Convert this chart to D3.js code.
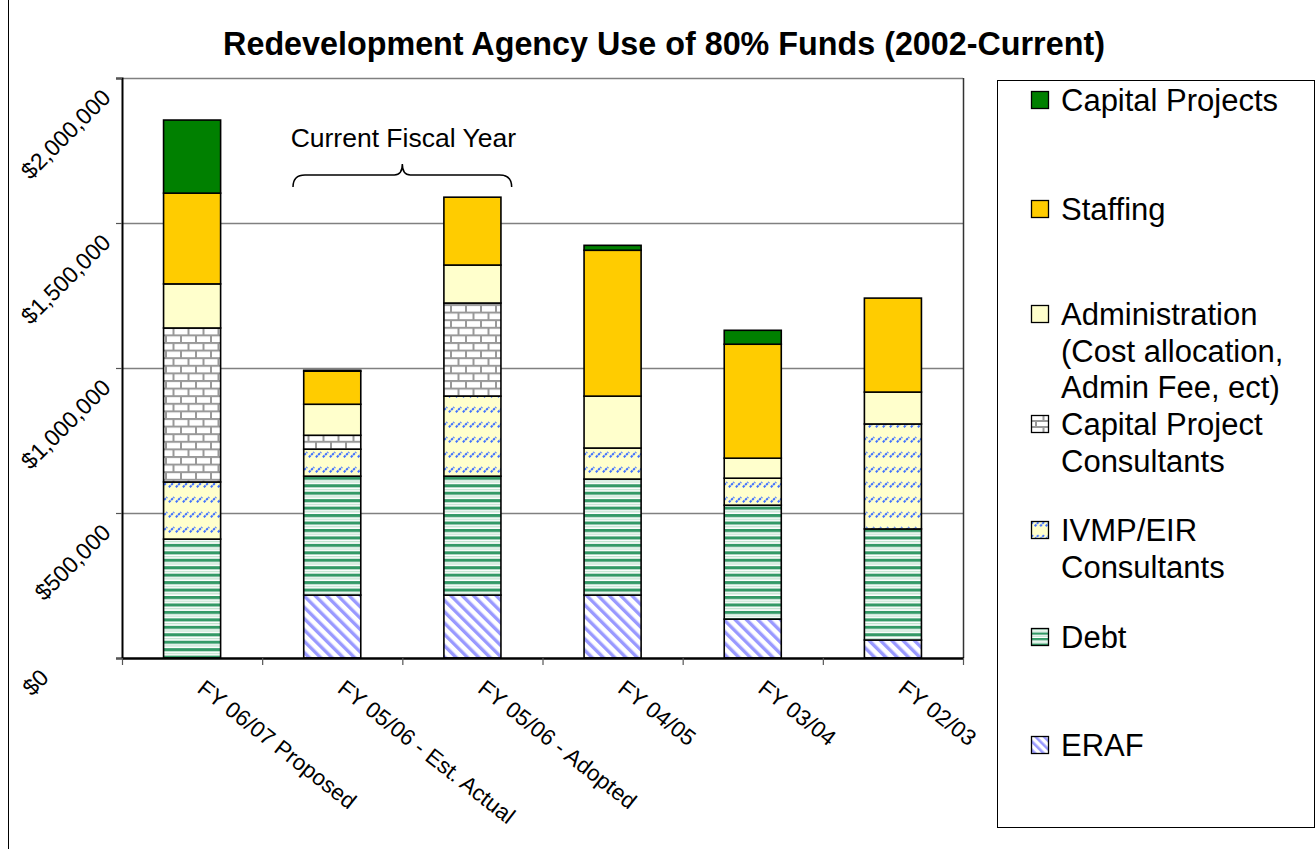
<!DOCTYPE html>
<html>
<head>
<meta charset="utf-8">
<script src="https://cdn.jsdelivr.net/npm/d3@7"></script>
<style>
  html, body { margin: 0; padding: 0; background: #fff; }
  svg { display: block; font-family: "Liberation Sans", Arial, sans-serif; }
</style>
</head>
<body>
<svg id="chart" width="1316" height="849"></svg>
<script>
// ---- data ----
const categories = ["FY 06/07 Proposed", "FY 05/06 - Est. Actual", "FY 05/06 - Adopted", "FY 04/05", "FY 03/04", "FY 02/03"];
const eraf      = [0,      217000, 217000, 217000, 134000, 62000];
const debt      = [410000, 410000, 410000, 400000, 393000, 383000];
const ivmp      = [197000, 93000,  276000, 107000, 93000,  362000];
const cpc       = [531000, 48000,  321000, 0,      0,      0];
const admin     = [152000, 107000, 131000, 179000, 69000,  110000];
const staffing  = [313000, 114000, 234000, 503000, 393000, 324000];
const capital   = [252000, 3000,   0,      17000,  48000,  0];
const yTicks = [0, 500000, 1000000, 1500000, 2000000];
const seriesNames = ["ERAF", "Debt", "IVMP/EIR Consultants", "Capital Project Consultants", "Administration", "Staffing", "Capital Projects"];
const legendLabels = [
  ["Capital Projects"],
  ["Staffing"],
  ["Administration", "(Cost allocation,", "Admin Fee, ect)"],
  ["Capital Project", "Consultants"],
  ["IVMP/EIR", "Consultants"],
  ["Debt"],
  ["ERAF"]
];
const title = "Redevelopment Agency Use of 80% Funds (2002-Current)";
const annotation = "Current Fiscal Year";

const seriesValues = [eraf, debt, ivmp, cpc, admin, staffing, capital];
const fills = ["url(#pEraf)", "url(#pDebt)", "url(#pIvmp)", "url(#pBrick)", "#FFFFCC", "#FFCC00", "#008000"];
const legendFills = ["#008000", "#FFCC00", "#FFFFCC", "url(#pBrickL)", "url(#pIvmpL)", "url(#pDebtL)", "url(#pErafL)"];

const svg = d3.select("#chart");
const defs = svg.append("defs");

// ERAF: white with lavender "\" stripes
function erafPattern(id, w, sw) {
  const p = defs.append("pattern").attr("id", id).attr("patternUnits", "userSpaceOnUse")
    .attr("width", w).attr("height", w).attr("patternTransform", "rotate(-45)");
  p.append("rect").attr("width", w).attr("height", w).attr("fill", "#fff");
  p.append("rect").attr("x", 0).attr("width", sw).attr("height", w).attr("fill", "#9999FF");
}
erafPattern("pEraf", 8, 3.4);
erafPattern("pErafL", 6, 2.6);

// Debt: horizontal green stripes
function debtPattern(id, h) {
  const p = defs.append("pattern").attr("id", id).attr("patternUnits", "userSpaceOnUse")
    .attr("width", 10).attr("height", h);
  p.append("rect").attr("width", 10).attr("height", h).attr("fill", "#fff");
  p.append("rect").attr("y", 0).attr("width", 10).attr("height", h * 0.42).attr("fill", "#339966");
  p.append("rect").attr("y", h * 0.66).attr("width", 10).attr("height", h * 0.12).attr("fill", "#A8D8BC");
}
debtPattern("pDebt", 7.45);
debtPattern("pDebtL", 5.5);

// IVMP: light yellow with small blue "/" dashes
function ivmpPattern(id, w, h) {
  const p = defs.append("pattern").attr("id", id).attr("patternUnits", "userSpaceOnUse")
    .attr("width", w).attr("height", h);
  p.append("rect").attr("width", w).attr("height", h).attr("fill", "#FFFFCC");
  p.append("line").attr("x1", w * 0.12).attr("y1", h * 0.48).attr("x2", w * 0.88).attr("y2", h * 0.14)
    .attr("stroke", "#3F70FF").attr("stroke-width", 2).attr("stroke-dasharray", "2.4,0.8");
}
ivmpPattern("pIvmp", 7, 15);
ivmpPattern("pIvmpL", 5.5, 13);

// Brick pattern
function brickPattern(id, w, h) {
  const p = defs.append("pattern").attr("id", id).attr("patternUnits", "userSpaceOnUse")
    .attr("width", w).attr("height", h);
  p.append("rect").attr("width", w).attr("height", h).attr("fill", "#fff");
  const c = "#999999";
  p.append("rect").attr("x", 0).attr("y", 0).attr("width", w).attr("height", 2).attr("fill", c);
  p.append("rect").attr("x", 0).attr("y", h / 2).attr("width", w).attr("height", 2).attr("fill", c);
  p.append("rect").attr("x", 0).attr("y", 0).attr("width", 2).attr("height", h / 2).attr("fill", c);
  p.append("rect").attr("x", w / 2).attr("y", h / 2).attr("width", 2).attr("height", h / 2).attr("fill", c);
}
brickPattern("pBrick", 15, 15.2);
brickPattern("pBrickL", 15, 12);

// ---- layout ----
const plot = { left: 122, right: 963, top: 78, bottom: 658 };

const x = d3.scaleBand().domain(categories).range([plot.left, plot.right])
  .paddingInner(0.593).paddingOuter(0.2965);
const y = d3.scaleLinear().domain([0, 2000000]).range([plot.bottom, plot.top]);

// outer chart border (left edge visible)
svg.append("line").attr("x1", 8.5).attr("x2", 8.5).attr("y1", 0).attr("y2", 849)
  .attr("stroke", "#000").attr("stroke-width", 1);

// title
svg.append("text").attr("x", 664).attr("y", 55).attr("text-anchor", "middle")
  .attr("font-weight", "bold").attr("font-size", 32.3).text(title);

// gridlines
svg.append("g").selectAll("line").data(yTicks.filter(d => d > 0)).join("line")
  .attr("x1", plot.left).attr("x2", plot.right)
  .attr("y1", d => Math.round(y(d)) + 0.5).attr("y2", d => Math.round(y(d)) + 0.5)
  .attr("stroke", "#808080").attr("stroke-width", 1.5);

// right border of plot
svg.append("line").attr("x1", plot.right + 0.5).attr("x2", plot.right + 0.5)
  .attr("y1", plot.top).attr("y2", plot.bottom).attr("stroke", "#333").attr("stroke-width", 1.5);

// stacked bars
const stackData = categories.map((c, i) => {
  const o = { cat: c };
  seriesNames.forEach((s, k) => o[s] = seriesValues[k][i]);
  return o;
});
const stacked = d3.stack().keys(seriesNames)(stackData);

const gBars = svg.append("g");
stacked.forEach((layer, k) => {
  gBars.append("g").selectAll("rect").data(layer.filter(d => d[1] - d[0] > 0)).join("rect")
    .attr("x", d => x(d.data.cat))
    .attr("width", x.bandwidth())
    .attr("y", d => y(d[1]))
    .attr("height", d => y(d[0]) - y(d[1]))
    .attr("fill", fills[k])
    .attr("stroke", "#000").attr("stroke-width", 1.6);
});

// y axis
const yAxis = d3.axisLeft(y).tickValues(yTicks).tickSize(6).tickFormat("");
const gy = svg.append("g").attr("transform", `translate(${plot.left},0)`).call(yAxis);
gy.select(".domain").attr("stroke", "#000").attr("stroke-width", 2);
gy.selectAll(".tick line").attr("stroke", "#555").attr("stroke-width", 1.2);

const fmt = v => "$" + d3.format(",")(v);
svg.append("g").selectAll("text").data(yTicks).join("text")
  .attr("transform", d => `translate(${d === 0 ? 50 : 112},${y(d) + 21}) rotate(-45)`)
  .attr("text-anchor", "end").attr("font-size", 23).text(fmt);

// x axis
svg.append("line").attr("x1", plot.left).attr("x2", plot.right + 1)
  .attr("y1", plot.bottom + 0.5).attr("y2", plot.bottom + 0.5)
  .attr("stroke", "#000").attr("stroke-width", 2.5);
const step = x.step();
const tickXs = categories.map(c => x(c) + x.bandwidth() / 2 - step / 2).concat([plot.right]);
svg.append("g").selectAll("line").data(tickXs).join("line")
  .attr("x1", d => d + 0.5).attr("x2", d => d + 0.5)
  .attr("y1", plot.bottom).attr("y2", plot.bottom + 7)
  .attr("stroke", "#555").attr("stroke-width", 1.2);

svg.append("g").selectAll("text").data(categories).join("text")
  .attr("transform", c => `translate(${x(c) + x.bandwidth() / 2 + 4},${plot.bottom + 33}) rotate(38)`)
  .attr("text-anchor", "start").attr("font-size", 22.5).text(d => d);

// annotation with brace
const bx0 = x(categories[1]) + x.bandwidth() / 2 - step * 0.28;
const bx1 = x(categories[2]) + x.bandwidth() / 2 + step * 0.28;
const bm = (bx0 + bx1) / 2;
const by = 175;
svg.append("text").attr("x", bm + 1).attr("y", 147).attr("text-anchor", "middle")
  .attr("font-size", 26.5).text(annotation);
svg.append("path")
  .attr("d", `M${bx0},${by + 12} Q${bx0},${by} ${bx0 + 12},${by} L${bm - 8},${by} Q${bm},${by} ${bm},${by - 11} Q${bm},${by} ${bm + 8},${by} L${bx1 - 12},${by} Q${bx1},${by} ${bx1},${by + 12}`)
  .attr("fill", "none").attr("stroke", "#000").attr("stroke-width", 1.5);

// legend
svg.append("rect").attr("x", 997.5).attr("y", 80.5).attr("width", 317).attr("height", 747)
  .attr("fill", "#fff").attr("stroke", "#000").attr("stroke-width", 1);
const legendY = [100, 209, 314, 424, 530, 637, 745];
const lineH = 36.5;
const gl = svg.append("g");
legendLabels.forEach((lines, i) => {
  const cy = legendY[i];
  gl.append("rect").attr("x", 1031.5).attr("y", cy - 8.5).attr("width", 17).attr("height", 17)
    .attr("fill", legendFills[i]).attr("stroke", "#000").attr("stroke-width", 1.3);
  lines.forEach((t, j) => {
    gl.append("text").attr("x", 1061).attr("y", cy + 11 + j * lineH)
      .attr("font-size", 31).text(t);
  });
});
</script>
</body>
</html>
